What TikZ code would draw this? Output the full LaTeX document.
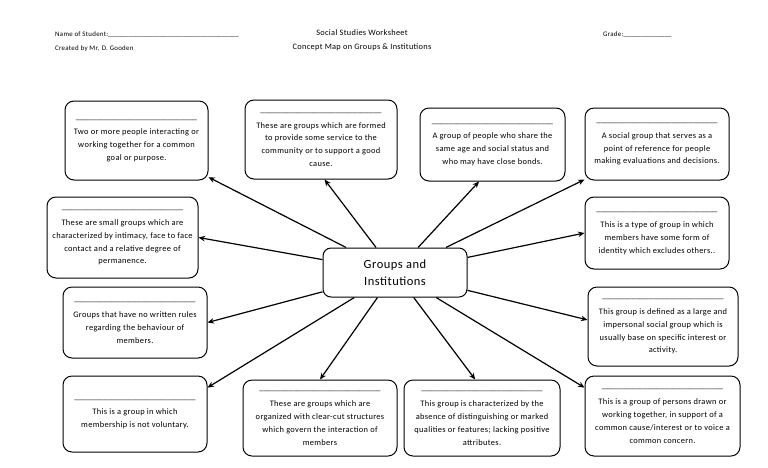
\documentclass[tikz,border=0pt]{standalone}
\usepackage{fontspec}
\setmainfont{Carlito}[LetterSpace=4]
\newfontfamily\plainul{Carlito}
\usetikzlibrary{arrows.meta}
\newcommand\blankline{{\plainul\_\_\_\_\_\_\_\_\_\_\_\_\_\_\_\_\_\_\_\_\_\_\_\_\_\_\_\_\_}}
\tikzset{
  box/.style={draw, line width=1pt, rounded corners=9pt, align=center,
    font=\fontsize{8.4}{12.8}\selectfont, inner sep=2pt},
  hub/.style={draw, line width=1pt, rounded corners=8pt, align=center,
    font=\fontsize{12.5}{16.5}\selectfont, inner sep=2pt},
  arr/.style={line width=1.2pt, -{Stealth[length=6.5pt,width=5.5pt]}},
  hdr/.style={font=\fontsize{6.9}{9}\selectfont, inner sep=0pt},
  ttl/.style={font=\fontsize{8.3}{10}\selectfont, inner sep=0pt}
}
\begin{document}
\begin{tikzpicture}[x=1pt,y=-1pt]
\useasboundingbox (0,0) rectangle (768,467);
% header
\node[hdr, anchor=west] (name) at (55,35) {Name of Student:{\plainul\_\_\_\_\_\_\_\_\_\_\_\_\_\_\_\_\_\_\_\_\_\_\_\_\_\_\_\_\_\_\_\_\_\_\_\_\_\_}};
\node[hdr, anchor=west] (author) at (55,49) {Created by Mr. D. Gooden};
\node[ttl] (title1) at (362,33) {Social Studies Worksheet};
\node[ttl] (title2) at (362,47) {Concept Map on Groups \& Institutions};
\node[hdr, anchor=west] (grade) at (603,35) {Grade:{\plainul\_\_\_\_\_\_\_\_\_\_\_\_\_\_}};
% center
\node[hub, minimum width=144pt, minimum height=49pt] (c) at (395,272.5) {Groups and\\Institutions};
% boxes
\node[box, minimum width=143pt, minimum height=79pt] (b1) at (136.5,140.5)
  {\blankline\\[3pt]Two or more people interacting or\\working together for a common\\goal or purpose.};
\node[box, minimum width=152pt, minimum height=79pt] (b2) at (321,139.5)
  {\blankline\\[3pt]These are groups which are formed\\to provide some service to the\\community or to support a good\\cause.};
\node[box, minimum width=145pt, minimum height=73pt] (b3) at (492.5,144.5)
  {\blankline\\[3pt]A group of people who share the\\same age and social status and\\who may have close bonds.};
\node[box, minimum width=144pt, minimum height=72pt] (b4) at (657,144)
  {\blankline\\[3pt]A social group that serves as a\\point of reference for people\\making evaluations and decisions.};
\node[box, minimum width=151pt, minimum height=81pt] (b5) at (122.5,237.5)
  {\blankline\\[3pt]These are small groups which are\\characterized by intimacy, face to face\\contact and a relative degree of\\permanence.};
\node[box, minimum width=144pt, minimum height=72pt] (b6) at (657,233)
  {\blankline\\[3pt]This is a type of group in which\\members have some form of\\identity which excludes others..};
\node[box, minimum width=144pt, minimum height=71pt] (b7) at (135,322.5)
  {\blankline\\[3pt]Groups that have no written rules\\regarding the behaviour of\\members.};
\node[box, minimum width=150pt, minimum height=79pt] (b8) at (663,326.5)
  {\blankline\\[3pt]This group is defined as a large and\\impersonal social group which is\\usually base on specific interest or\\activity.};
\node[box, minimum width=144pt, minimum height=76pt] (b9) at (135,414)
  {\blankline\\[3pt]This is a group in which\\membership is not voluntary.};
\node[box, minimum width=154pt, minimum height=76pt] (b10) at (320,418)
  {\blankline\\[3pt]These are groups which are\\organized with clear-cut structures\\which govern the interaction of\\members};
\node[box, minimum width=156pt, minimum height=76pt] (b11) at (482,418)
  {\blankline\\[3pt]This group is characterized by the\\absence of distinguishing or marked\\qualities or features; lacking positive\\attributes.};
\node[box, minimum width=155pt, minimum height=80pt] (b12) at (662.5,416)
  {\blankline\\[3pt]This is a group of persons drawn or\\working together, in support of a\\common cause/interest or to voice a\\common concern.};
% arrows
\draw[arr] (c) -- (b1);
\draw[arr] (c) -- (b2.275);
\draw[arr] (c) -- (b3.250);
\draw[arr] (c) -- (b4);
\draw[arr] (c) -- (b5.east);
\draw[arr] (c) -- (b6.west);
\draw[arr] (c) -- (b7.east);
\draw[arr] (c) -- (b8.175);
\draw[arr] (c) -- (b9.20);
\draw[arr] (c) -- (b10.north);
\draw[arr] (c) -- (b11.100);
\draw[arr] (c) -- (b12.160);
\end{tikzpicture}
\end{document}
